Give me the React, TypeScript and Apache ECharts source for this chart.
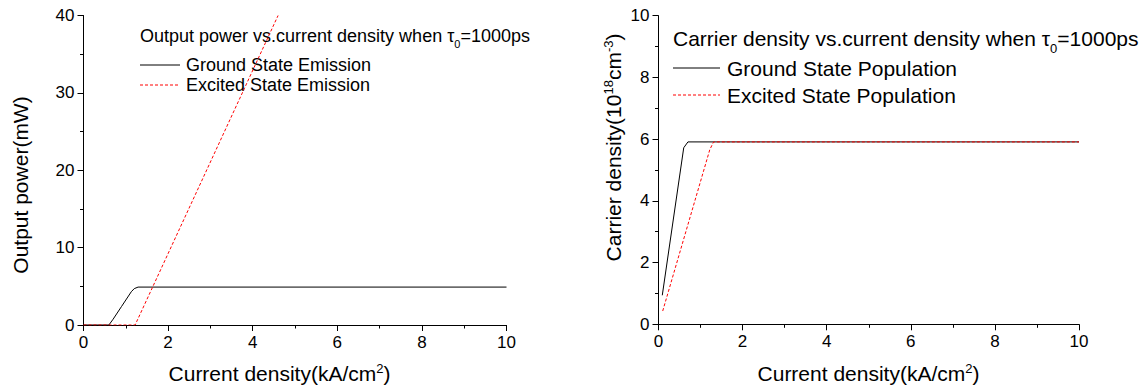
import React, { useEffect, useRef } from 'react';
import * as echarts from 'echarts';

const FONT = '"Liberation Sans", Arial, Helvetica, sans-serif';

// Left chart: output power (mW) vs current density (kA/cm^2)
const groundEmissionX = [0, 0.6, 0.7, 0.9, 1.13, 1.2, 1.29, 10];
const groundEmissionY = [0, 0, 0.75, 2.4, 4.3, 4.7, 4.9, 4.9];
const excitedEmissionX = [0, 1.22, 4.6];
const excitedEmissionY = [0, 0, 40];

// Right chart: carrier density (10^18 cm^-3) vs current density
const groundPopX = [0.09, 0.6, 0.7, 10];
const groundPopY = [0.94, 5.72, 5.91, 5.91];
const excitedPopX = [0.1, 1.22, 1.31, 10];
const excitedPopY = [0.43, 5.66, 5.91, 5.91];

const leftTitle = 'Output power vs.current density when τ{sub|0}=1000ps';
const rightTitle = 'Carrier density vs.current density when τ{sub|0}=1000ps';
const leftLegend = ['Ground State Emission', 'Excited State Emission'];
const rightLegend = ['Ground State Population', 'Excited State Population'];
const xAxisName = 'Current density(kA/cm{sup|2})';
const leftYName = 'Output power(mW)';
const rightYName = 'Carrier density(10{sup|18}cm{sup|-3})';

const zip = (xs: number[], ys: number[]) => xs.map((x, i) => [x, ys[i]]);

const RED_DASH = [3, 2];

function axis(gridIndex: number, min: number, max: number, interval: number) {
  return {
    type: 'value',
    gridIndex,
    min,
    max,
    interval,
    axisLine: { show: true, onZero: false, lineStyle: { color: '#000', width: 1 } },
    axisTick: { show: true, inside: false, length: 6, lineStyle: { color: '#000', width: 1 } },
    minorTick: { show: true, splitNumber: 2, length: 3.5, lineStyle: { color: '#000', width: 1 } },
    splitLine: { show: false },
    minorSplitLine: { show: false },
    axisLabel: { color: '#000', fontSize: 17, fontFamily: FONT, margin: 9 },
  };
}

function textEl(text: string, x: number, y: number, size: number, extra: any = {}) {
  const small = Math.round(size * 0.6);
  return {
    type: 'text',
    x,
    y,
    rotation: extra.rotation || 0,
    style: {
      text,
      fill: '#000',
      fontSize: size,
      fontFamily: FONT,
      lineHeight: extra.lineHeight || size,
      align: extra.align || 'left',
      verticalAlign: 'middle',
      rich: {
        sub: { fontSize: small, lineHeight: small, fontFamily: FONT, fill: '#000', verticalAlign: 'bottom' },
        sup: { fontSize: small, lineHeight: small, fontFamily: FONT, fill: '#000', verticalAlign: 'top' },
      },
    },
  };
}

function legendLine(x1: number, x2: number, y: number, red: boolean) {
  return {
    type: 'line',
    shape: { x1, y1: y, x2, y2: y },
    style: {
      stroke: red ? '#ff0000' : '#000',
      lineWidth: 1,
      lineDash: red ? RED_DASH : null,
    },
  };
}

export default function App() {
  const ref = useRef<HTMLDivElement>(null);
  useEffect(() => {
    if (!ref.current) return;
    const chart = echarts.init(ref.current, null, { renderer: 'svg' });
    chart.setOption({
      animation: false,
      backgroundColor: '#fff',
      grid: [
        { left: 83.5, top: 15.5, width: 423, height: 309.5 },
        { left: 658.5, top: 15.7, width: 420.5, height: 308.6 },
      ],
      xAxis: [axis(0, 0, 10, 2), axis(1, 0, 10, 2)],
      yAxis: [axis(0, 0, 40, 10), axis(1, 0, 10, 2)],
      series: [
        {
          name: leftLegend[0], type: 'line', xAxisIndex: 0, yAxisIndex: 0,
          data: zip(groundEmissionX, groundEmissionY), symbol: 'none',
          lineStyle: { color: '#000', width: 1 },
        },
        {
          name: leftLegend[1], type: 'line', xAxisIndex: 0, yAxisIndex: 0,
          data: zip(excitedEmissionX, excitedEmissionY), symbol: 'none',
          lineStyle: { color: '#ff0000', width: 1, type: RED_DASH },
        },
        {
          name: rightLegend[0], type: 'line', xAxisIndex: 1, yAxisIndex: 1,
          data: zip(groundPopX, groundPopY), symbol: 'none',
          lineStyle: { color: '#000', width: 1 },
        },
        {
          name: rightLegend[1], type: 'line', xAxisIndex: 1, yAxisIndex: 1,
          data: zip(excitedPopX, excitedPopY), symbol: 'none',
          lineStyle: { color: '#ff0000', width: 1, type: RED_DASH },
        },
      ],
      graphic: [
        textEl(leftTitle, 140, 36, 18, { lineHeight: 27 }),
        legendLine(140, 180, 65, false),
        textEl(leftLegend[0], 186, 65, 18),
        legendLine(140, 180, 85, true),
        textEl(leftLegend[1], 186, 85, 18),
        textEl(rightTitle, 673, 38, 21, { lineHeight: 33 }),
        legendLine(673, 720, 68, false),
        textEl(rightLegend[0], 727, 68, 21),
        legendLine(673, 720, 95, true),
        textEl(rightLegend[1], 727, 95, 21),
        textEl(xAxisName, 279.5, 373, 21, { align: 'center', lineHeight: 23 }),
        textEl(xAxisName, 868.5, 373, 21, { align: 'center', lineHeight: 23 }),
        textEl(leftYName, 20, 185, 21, { align: 'center', rotation: Math.PI / 2 }),
        textEl(rightYName, 613, 147.5, 21, { align: 'center', rotation: Math.PI / 2, lineHeight: 23 }),
      ],
    });
    return () => chart.dispose();
  }, []);
  return (
    <div
      ref={ref}
      style={{ position: 'fixed', left: 0, top: 0, width: 1142, height: 388, background: '#fff' }}
    />
  );
}
